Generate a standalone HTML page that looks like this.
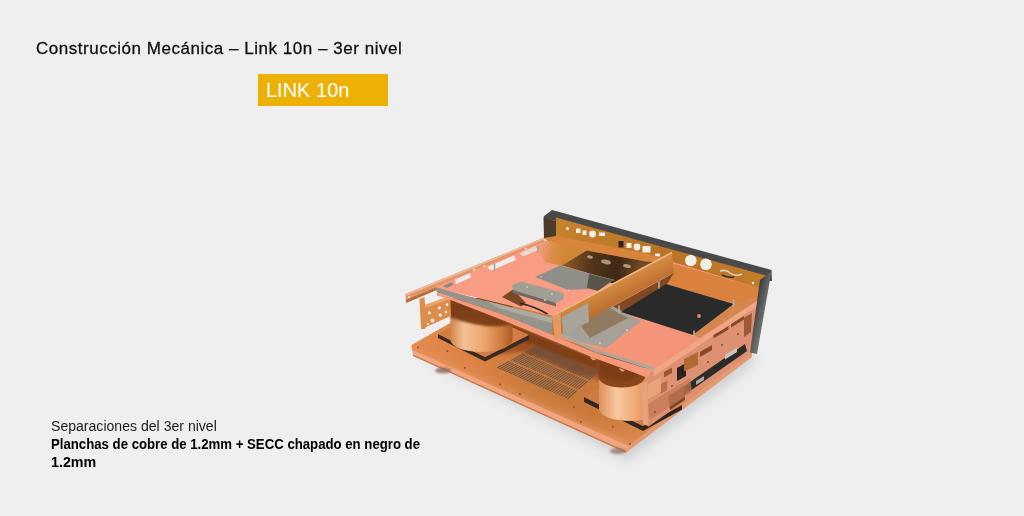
<!DOCTYPE html>
<html lang="es">
<head>
<meta charset="utf-8">
<title>Construcción Mecánica – Link 10n – 3er nivel</title>
<style>
html,body{margin:0;padding:0;}
body{width:1024px;height:516px;background:#efefef;position:relative;overflow:hidden;font-family:"Liberation Sans","DejaVu Sans",sans-serif;color:#111;}
.title{position:absolute;left:36.2px;top:36.8px;font-size:17px;line-height:24px;white-space:nowrap;color:#0e0e0e;letter-spacing:0.53px;-webkit-text-stroke:0.28px #0e0e0e;will-change:transform;}
.tag{position:absolute;left:258px;top:74px;width:130px;height:31.5px;background:#edb004;color:#fff;font-size:20px;line-height:32px;box-sizing:border-box;padding-left:8px;white-space:nowrap;}
.cap{position:absolute;left:51px;top:416.5px;font-size:14px;line-height:18.4px;color:#1c1c1c;white-space:nowrap;}
.cap span,.cap b{display:inline-block;transform-origin:0 0;}
.cap b{font-weight:bold;color:#000;}
#c1{transform:scaleX(1.005);}#c2{transform:scaleX(0.942);}#c3{transform:scaleX(1.02);}
#photo{position:absolute;left:0;top:0;}
</style>
</head>
<body>
<svg id="photo" width="1024" height="516" viewBox="0 0 1024 516">
<defs>
  <filter id="soft" x="-5%" y="-5%" width="110%" height="110%"><feGaussianBlur stdDeviation="0.6"/></filter>
  <filter id="sh" x="-20%" y="-20%" width="140%" height="140%"><feGaussianBlur stdDeviation="6"/></filter>
  <filter id="b2" x="-20%" y="-20%" width="140%" height="140%"><feGaussianBlur stdDeviation="2"/></filter>
  <filter id="b1" x="-20%" y="-20%" width="140%" height="140%"><feGaussianBlur stdDeviation="1"/></filter>
  <linearGradient id="gBase" x1="411" y1="350" x2="700" y2="400" gradientUnits="userSpaceOnUse">
    <stop offset="0" stop-color="#e48a50"/><stop offset="0.22" stop-color="#dc8244"/><stop offset="0.42" stop-color="#c97a3a"/><stop offset="0.65" stop-color="#c87838"/><stop offset="0.8" stop-color="#d6864a"/><stop offset="1" stop-color="#de9058"/>
  </linearGradient>
  <linearGradient id="gCylL" x1="450" y1="0" x2="513" y2="0" gradientUnits="userSpaceOnUse">
    <stop offset="0" stop-color="#d08548"/><stop offset="0.22" stop-color="#f4c096"/><stop offset="0.5" stop-color="#eeaa74"/><stop offset="0.8" stop-color="#d27e42"/><stop offset="1" stop-color="#a85a26"/>
  </linearGradient>
  <linearGradient id="gCylLv" x1="0" y1="300" x2="0" y2="352" gradientUnits="userSpaceOnUse">
    <stop offset="0" stop-color="#6a3410" stop-opacity="0.9"/><stop offset="0.26" stop-color="#7a3c14" stop-opacity="0.6"/><stop offset="0.38" stop-color="#8a4818" stop-opacity="0.12"/><stop offset="0.46" stop-color="#8a4818" stop-opacity="0"/>
  </linearGradient>
  <linearGradient id="gCylR" x1="598" y1="0" x2="662" y2="0" gradientUnits="userSpaceOnUse">
    <stop offset="0" stop-color="#dc8e56"/><stop offset="0.3" stop-color="#f7c8a0"/><stop offset="0.6" stop-color="#efa870"/><stop offset="1" stop-color="#cc763c"/>
  </linearGradient>
  <linearGradient id="gDark" x1="565" y1="262" x2="640" y2="272" gradientUnits="userSpaceOnUse">
    <stop offset="0" stop-color="#8a5a26"/><stop offset="0.35" stop-color="#54341a"/><stop offset="0.7" stop-color="#3e2814"/><stop offset="1" stop-color="#6e4a22"/>
  </linearGradient>
  <linearGradient id="gGold" x1="538" y1="250" x2="566" y2="256" gradientUnits="userSpaceOnUse">
    <stop offset="0" stop-color="#f89d84"/><stop offset="0.5" stop-color="#dc8e48"/><stop offset="1" stop-color="#cf8636"/>
  </linearGradient>
  <linearGradient id="gBack" x1="556" y1="225" x2="766" y2="282" gradientUnits="userSpaceOnUse">
    <stop offset="0" stop-color="#c5822e"/><stop offset="0.5" stop-color="#b97426"/><stop offset="1" stop-color="#c27c2c"/>
  </linearGradient>
  <linearGradient id="gDiv" x1="612" y1="284" x2="622" y2="304" gradientUnits="userSpaceOnUse">
    <stop offset="0" stop-color="#d48a42"/><stop offset="1" stop-color="#b96a2c"/>
  </linearGradient>
  <linearGradient id="gRP" x1="752" y1="310" x2="765" y2="313" gradientUnits="userSpaceOnUse">
    <stop offset="0" stop-color="#3c342e"/><stop offset="0.5" stop-color="#555553"/><stop offset="1" stop-color="#727270"/>
  </linearGradient>
  <linearGradient id="gFront" x1="500" y1="390" x2="506" y2="376" gradientUnits="userSpaceOnUse">
    <stop offset="0" stop-color="#f0a67a" stop-opacity="0.9"/><stop offset="0.4" stop-color="#e4955e" stop-opacity="0.45"/><stop offset="1" stop-color="#e08c54" stop-opacity="0"/>
  </linearGradient>
</defs>
<g filter="url(#soft)">
  <!-- ground shadow -->
  <polygon points="420,356 628,461 754,364 748,345 600,380" fill="#c2c4c4" opacity="0.7" filter="url(#sh)"/>
  <!-- base plate -->
  <polygon points="411.5,345 452,322 520,290 720,300 753,352 628,446.5 412,350.5" fill="url(#gBase)"/>
  <polygon points="411.5,345 452,322 520,340 700,400 628,446.5 412,350.5" fill="url(#gFront)" opacity="0.55"/>
  <!-- base front lip -->
  <polygon points="411.5,345 412,350 628,446 626,452.5 413,355.5" fill="#f2a680"/>
  <polygon points="412.8,354.5 626.2,451.3 626,452.8 413,356" fill="#c9764a"/>
  <polygon points="626,452.8 628,446.5 752,351 752,357" fill="#e39a72"/>
  <ellipse cx="443" cy="370.5" rx="8" ry="3" fill="#8a6a58" opacity="0.8" filter="url(#b1)"/>
  <ellipse cx="618" cy="451" rx="8" ry="3" fill="#8a6a58" opacity="0.7" filter="url(#b1)"/>
  <!-- back panel -->
  <polygon points="543.5,216.5 552,210 771.5,270 772,281 762,281 763,278.5 556,221 544,219" fill="#4a4a48"/>
  <polygon points="543.5,218 556,221 556,240 544,238.5" fill="#4e3a2c"/>
  <polygon points="556,217.5 766,275.5 762,290 556,236.5" fill="url(#gBack)"/>
  <g fill="#f2eee8">
    <circle cx="567.5" cy="228.5" r="1.5"/><rect x="576" y="228.5" width="4.5" height="4.5"/><rect x="582.5" y="230.5" width="4" height="4.5"/>
    <circle cx="592.5" cy="234" r="3.4"/><rect x="599" y="232.5" width="6" height="3.5"/>
    <rect x="626.5" y="243" width="5" height="5"/><circle cx="637" cy="247" r="3.4"/><rect x="642.5" y="246" width="8" height="6.5"/><rect x="655" y="253.5" width="5" height="3"/>
    <circle cx="690.8" cy="260.5" r="5.8"/><circle cx="706" cy="264.3" r="5.8"/>
    <circle cx="753" cy="283" r="1.2"/>
  </g>
  <rect x="618.5" y="241" width="5" height="6.5" fill="#2c2620"/>
  <path d="M720,271 q6,-2 10,2 q5,4 12,1" stroke="#d8d2c8" stroke-width="1.6" fill="none"/>
  <path d="M722,275 q6,3 12,2" stroke="#3a3028" stroke-width="1.6" fill="none"/>

  <!-- shadow under top assembly on base -->
  <polygon points="440,300 500,319 556,342 600,360 602,380 575,374 545,360 520,352 500,354 470,330" fill="#9a5022" opacity="0.95" filter="url(#b2)"/>
  <polygon points="505,322 556,343 598,360 598,370 556,354 515,338" fill="#7c3e16" opacity="0.85" filter="url(#b1)"/>
  <g stroke="#5f5048" stroke-width="1.1" opacity="0.85"><line x1="497.0" y1="368.0" x2="509.4" y2="361.3"/><line x1="511.1" y1="360.4" x2="523.6" y2="353.7"/><line x1="525.3" y1="352.8" x2="538.1" y2="345.9"/><line x1="499.3" y1="369.0" x2="511.6" y2="362.3"/><line x1="513.3" y1="361.4" x2="525.6" y2="354.6"/><line x1="527.3" y1="353.7" x2="540.1" y2="346.7"/><line x1="501.5" y1="370.0" x2="513.8" y2="363.2"/><line x1="515.5" y1="362.3" x2="527.7" y2="355.5"/><line x1="529.4" y1="354.5" x2="542.0" y2="347.5"/><line x1="503.8" y1="371.0" x2="515.9" y2="364.2"/><line x1="517.6" y1="363.2" x2="529.7" y2="356.4"/><line x1="531.4" y1="355.4" x2="543.9" y2="348.3"/><line x1="506.1" y1="372.0" x2="518.1" y2="365.1"/><line x1="519.8" y1="364.2" x2="531.8" y2="357.2"/><line x1="533.5" y1="356.3" x2="545.9" y2="349.1"/><line x1="508.4" y1="373.0" x2="520.3" y2="366.1"/><line x1="521.9" y1="365.1" x2="533.9" y2="358.1"/><line x1="535.5" y1="357.2" x2="547.8" y2="349.9"/><line x1="510.6" y1="374.0" x2="522.5" y2="367.0"/><line x1="524.1" y1="366.0" x2="535.9" y2="359.0"/><line x1="537.5" y1="358.0" x2="549.8" y2="350.8"/><line x1="512.9" y1="375.0" x2="524.6" y2="367.9"/><line x1="526.3" y1="367.0" x2="538.0" y2="359.9"/><line x1="539.6" y1="358.9" x2="551.7" y2="351.6"/><line x1="515.2" y1="376.0" x2="526.8" y2="368.9"/><line x1="528.4" y1="367.9" x2="540.0" y2="360.8"/><line x1="541.6" y1="359.8" x2="553.7" y2="352.4"/><line x1="517.5" y1="377.0" x2="529.0" y2="369.8"/><line x1="530.6" y1="368.8" x2="542.1" y2="361.6"/><line x1="543.7" y1="360.6" x2="555.6" y2="353.2"/><line x1="519.7" y1="378.0" x2="531.2" y2="370.8"/><line x1="532.7" y1="369.8" x2="544.2" y2="362.5"/><line x1="545.7" y1="361.5" x2="557.6" y2="354.0"/><line x1="522.0" y1="379.0" x2="533.3" y2="371.7"/><line x1="534.9" y1="370.7" x2="546.2" y2="363.4"/><line x1="547.8" y1="362.4" x2="559.5" y2="354.8"/><line x1="524.3" y1="380.0" x2="535.5" y2="372.6"/><line x1="537.1" y1="371.6" x2="548.3" y2="364.3"/><line x1="549.8" y1="363.3" x2="561.4" y2="355.7"/><line x1="526.6" y1="381.0" x2="537.7" y2="373.6"/><line x1="539.2" y1="372.6" x2="550.3" y2="365.2"/><line x1="551.9" y1="364.1" x2="563.4" y2="356.5"/><line x1="528.8" y1="382.0" x2="539.9" y2="374.5"/><line x1="541.4" y1="373.5" x2="552.4" y2="366.0"/><line x1="553.9" y1="365.0" x2="565.3" y2="357.3"/><line x1="531.1" y1="383.0" x2="542.0" y2="375.5"/><line x1="543.5" y1="374.4" x2="554.5" y2="366.9"/><line x1="556.0" y1="365.9" x2="567.3" y2="358.1"/><line x1="533.4" y1="384.0" x2="544.2" y2="376.4"/><line x1="545.7" y1="375.4" x2="556.5" y2="367.8"/><line x1="558.0" y1="366.8" x2="569.2" y2="358.9"/><line x1="535.7" y1="385.0" x2="546.4" y2="377.4"/><line x1="547.9" y1="376.3" x2="558.6" y2="368.7"/><line x1="560.1" y1="367.6" x2="571.2" y2="359.7"/><line x1="537.9" y1="386.0" x2="548.6" y2="378.3"/><line x1="550.0" y1="377.2" x2="560.7" y2="369.6"/><line x1="562.1" y1="368.5" x2="573.1" y2="360.6"/><line x1="540.2" y1="387.0" x2="550.7" y2="379.2"/><line x1="552.2" y1="378.2" x2="562.7" y2="370.4"/><line x1="564.2" y1="369.4" x2="575.1" y2="361.4"/><line x1="542.5" y1="388.0" x2="552.9" y2="380.2"/><line x1="554.3" y1="379.1" x2="564.8" y2="371.3"/><line x1="566.2" y1="370.2" x2="577.0" y2="362.2"/><line x1="544.8" y1="389.0" x2="555.1" y2="381.1"/><line x1="556.5" y1="380.0" x2="566.8" y2="372.2"/><line x1="568.3" y1="371.1" x2="578.9" y2="363.0"/><line x1="547.0" y1="390.0" x2="557.3" y2="382.1"/><line x1="558.7" y1="381.0" x2="568.9" y2="373.1"/><line x1="570.3" y1="372.0" x2="580.9" y2="363.8"/><line x1="549.3" y1="391.0" x2="559.4" y2="383.0"/><line x1="560.8" y1="381.9" x2="571.0" y2="374.0"/><line x1="572.4" y1="372.9" x2="582.8" y2="364.6"/><line x1="551.6" y1="391.9" x2="561.6" y2="383.9"/><line x1="563.0" y1="382.8" x2="573.0" y2="374.8"/><line x1="574.4" y1="373.7" x2="584.8" y2="365.5"/><line x1="553.9" y1="392.9" x2="563.8" y2="384.9"/><line x1="565.2" y1="383.8" x2="575.1" y2="375.7"/><line x1="576.5" y1="374.6" x2="586.7" y2="366.3"/><line x1="556.1" y1="393.9" x2="566.0" y2="385.8"/><line x1="567.3" y1="384.7" x2="577.1" y2="376.6"/><line x1="578.5" y1="375.5" x2="588.7" y2="367.1"/><line x1="558.4" y1="394.9" x2="568.1" y2="386.8"/><line x1="569.5" y1="385.6" x2="579.2" y2="377.5"/><line x1="580.5" y1="376.4" x2="590.6" y2="367.9"/><line x1="560.7" y1="395.9" x2="570.3" y2="387.7"/><line x1="571.6" y1="386.6" x2="581.3" y2="378.4"/><line x1="582.6" y1="377.2" x2="592.6" y2="368.7"/><line x1="563.0" y1="396.9" x2="572.5" y2="388.7"/><line x1="573.8" y1="387.5" x2="583.3" y2="379.2"/><line x1="584.6" y1="378.1" x2="594.5" y2="369.5"/><line x1="565.2" y1="397.9" x2="574.7" y2="389.6"/><line x1="576.0" y1="388.4" x2="585.4" y2="380.1"/><line x1="586.7" y1="379.0" x2="596.4" y2="370.4"/><line x1="567.5" y1="398.9" x2="576.8" y2="390.5"/><line x1="578.1" y1="389.4" x2="587.4" y2="381.0"/><line x1="588.7" y1="379.8" x2="598.4" y2="371.2"/></g>
  <!-- base screws -->
  <g fill="#8a4a22"><circle cx="465" cy="368" r="0.9"/><circle cx="500.2" cy="384.5" r="0.9"/><circle cx="520" cy="394" r="0.9"/><circle cx="574" cy="406.8" r="0.9"/><circle cx="581" cy="422" r="0.9"/><circle cx="612.7" cy="426.7" r="0.9"/><circle cx="630" cy="444" r="0.9"/><circle cx="447.5" cy="351" r="0.9"/><circle cx="418" cy="347.5" r="0.9"/></g>
  <!-- left transformer pad -->
  <polygon points="438,334 485,357 529,335 529,339.5 485,361.5 438,338" fill="#3a2a20"/>
  <polygon points="438,334 480,312 529,335 485,357" fill="#d27c46"/>
  <!-- left transformer -->
  <path d="M450.5,298 L450.5,340 A31,12 0 0 0 512.5,340 L512.5,298 Z" fill="url(#gCylL)"/>
  <path d="M450.5,298 L450.5,340 A31,12 0 0 0 512.5,340 L512.5,298 Z" fill="url(#gCylLv)"/>
  <path d="M450.5,298 L514,324.5 L497,326.5 Q474,326.5 450.5,317 Z" fill="#7a3c16" opacity="0.95" filter="url(#b1)"/>
  <!-- right transformer pad -->
  <polygon points="584,397 643,426 682,405 682,409.5 643,431 584,402" fill="#33261e"/>
  <polygon points="584,397 625,375 682,405 643,426" fill="#cf7a46"/>
  <!-- right transformer -->
  <path d="M599,360 L599,409 A31,12 0 0 0 661,409 L661,360 Z" fill="url(#gCylR)"/>
  <path d="M598.5,354 L598.5,377 A23.2,10.5 0 0 0 645,377 L645,362 Z" fill="#8a461c"/>
  <path d="M598.5,356 L598.5,372 A22.5,10.5 0 0 0 640,376 L645,364 Z" fill="#7a3a14" opacity="0.7" filter="url(#b1)"/>

  <!-- left bracket -->
  <polygon points="419.5,299 424.5,297 425,305 450,296 451,316 426,327 425,329 421,329" fill="#dc8c4c"/>
  <polygon points="425,305 450,296 450,299 425,308" fill="#e9a66e"/>
  <g fill="#f3efe8"><circle cx="429.3" cy="312.7" r="1.5"/><circle cx="432.4" cy="320.5" r="1.9"/><circle cx="439.4" cy="308" r="1.4"/><circle cx="440.2" cy="315" r="1.6"/><circle cx="447" cy="304.5" r="1.3"/><circle cx="446" cy="312" r="1.2"/><circle cx="428" cy="324" r="1.1"/></g>

  <!-- left rail -->
  <polygon points="405.3,294 544,237.5 545,243.5 406,302.5" fill="#e2946a"/>
  <polygon points="405.3,294 544,237.5 544.2,239.2 405.5,296" fill="#f2b898"/>
  <polygon points="406,300 545,241.8 545,244 406.2,303" fill="#b96a3a"/>
  <g fill="#f1ebe4"><circle cx="409" cy="297" r="1"/><circle cx="474.3" cy="270" r="1.3"/><circle cx="484.4" cy="266.2" r="1.3"/><circle cx="526" cy="249" r="1.2"/></g>

  <!-- top plate, left compartment (salmon) -->
  <polygon points="434,287.5 548,240 660,262 672,254 553.5,316" fill="#f89d84"/>
  <!-- gaps under rail (background showing) -->
  <polygon points="455,279.5 470,273 471,277.5 456,284" fill="#f0ece8"/>
  <polygon points="487,267 514,255.5 516,260 491,270.5" fill="#efebe6"/>
  <polygon points="520,253 536,246 538,250 523,256.5" fill="#e9d9cc"/>
  <polygon points="443,286 452,282 453,285 447,288" fill="#8a8a84"/>
  <!-- golden reflection near back -->
  <polygon points="536,247 548,240 588,249 562,266 545,262" fill="url(#gGold)"/>
  <!-- orange strip below back panel -->
  <polygon points="544,238 556,236 650,254 662,258 658,262 646,261.5 586.5,250.5 548,241" fill="#d8843a"/>
  <!-- dark reflective floor -->
  <polygon points="586.5,250.5 646,261.5 658,262 614,284 588,273 562,265.5" fill="url(#gDark)"/>
  <!-- grey plate -->
  <polygon points="535,277 560,265.5 588,273 615,280 587,289 568,290" fill="#908f87"/>
  <polygon points="589,274 613,280 598,291 587,288" fill="#5a554c"/>
  <!-- grey bracket -->
  <polygon points="502,297 513,289.5 526,303 521,306.5" fill="#7a4620"/>
  <polygon points="512,285 521,281.5 564,293 563,299.5 556,303 513,290" fill="#a19e94"/>
  <polygon points="513,290 556,303 556,306.5 512,293" fill="#6e6a62"/>

  <!-- right compartment floor -->
  <polygon points="673,262 762,289 764,297 653,370 560,338 556,318" fill="#f4957a"/>
  <!-- orange floor near back right -->
  <polygon points="674,264 762,289 763,296 735,304 666,284" fill="#d8823c"/>
  <!-- shadow strip right of divider -->
  <polygon points="674,273 667,284 621,312.5 600,324 570,330" fill="#74421a" opacity="0.92"/>
  <!-- grey plate mid -->
  <polygon points="561,316 612,306 641,321 606,348 560,337" fill="#a5a198"/>
  <polygon points="575,318 610,308 628,318 590,338" fill="#8a6a4a" opacity="0.7"/>
  <!-- black pad -->
  <polygon points="666,284 734,304 693,335 621,312" fill="#2a2a2a"/>
  <circle cx="699" cy="316" r="1.9" fill="#e08a60"/>
  <!-- floor between pad and wall -->
  <polygon points="734,304 764,296 700,338 693,335" fill="#d48650"/>

  <!-- small posts and screws on plates -->
  <g stroke="#a8a49c" stroke-width="1.5" stroke-linecap="round"><line x1="494.5" y1="264" x2="494.5" y2="270.5"/><line x1="538" y1="247" x2="538" y2="252"/></g>
  <g fill="#d8d2c8"><circle cx="527" cy="287" r="0.9"/><circle cx="552" cy="294" r="0.9"/><circle cx="545" cy="300" r="1"/><circle cx="569" cy="290" r="0.8"/><circle cx="541" cy="277" r="0.8"/><circle cx="627" cy="330" r="0.9"/><circle cx="600" cy="343" r="0.9"/></g>
  <g fill="#f6e6da" opacity="0.55"><ellipse cx="606" cy="262" rx="5" ry="2.2" transform="rotate(12 606 262)"/><ellipse cx="627" cy="266" rx="4" ry="1.8" transform="rotate(12 627 266)"/><ellipse cx="590" cy="257" rx="3" ry="1.5" transform="rotate(12 590 257)"/></g>
  <!-- standoffs -->
  <g stroke="#b8b0a6" stroke-width="1.6" stroke-linecap="round">
    <line x1="659" y1="282" x2="659" y2="288"/><line x1="733.5" y1="300" x2="733.5" y2="306"/><line x1="694" y1="331" x2="694" y2="337"/><line x1="619" y1="306" x2="619" y2="313"/>
  </g>
  <!-- divider -->
  <polygon points="672,252.5 674,272.5 559,335.5 553.5,315.5" fill="url(#gDiv)"/>
  <polygon points="562,317 588,303 589,322 563,334" fill="#a8a49a"/>
  <polyline points="672,252.5 553.5,315.5" stroke="#f2b684" stroke-width="1.5" fill="none"/>

  <!-- front band of top assembly -->
  <polygon points="434.7,287 484,300.5 552,317.5 552,335.5 500,313.5 437,292.5" fill="#96938a"/>
  <polygon points="484,300.5 552,317.5 552,323 500,308.5" fill="#aeaaa0"/>
  <path d="M520,303.5 Q534,306 547.5,314" stroke="#2a2826" stroke-width="1.7" fill="none"/>
  <polygon points="437,292.5 500,313.5 556,336.5 594,352.5 650,369.5 660,370.5 655,381 634,372.5 594,358 556,342 500,319 444,297.6 437,295.5" fill="#f49a7a"/>
  <polygon points="561,333 594,348.5 652,366.5 660,370.5 650,369.5 594,351.5 561,336" fill="#aaa79e"/>
  <path d="M590,356.5 q2.5,6 6,2.5 z" fill="#ee9a78"/><path d="M619,368 q2.5,6 6,2 z" fill="#ee9a78"/>
  <!-- divider post -->
  <polygon points="552,316 560.5,314 561.5,338 555,340" fill="#e29a64"/>

  <!-- right front wall -->
  <polygon points="653,369.5 764,296.5 752,353 648,427 643,384" fill="#dd9072"/>
  <polygon points="653,369.5 764,296.5 763,302.5 654,376" fill="#f0a684"/>
  <!-- cutouts in wall -->
  <polygon points="641.5,384 647.5,381 648,426 643,424" fill="#eaa27e"/>
  <polygon points="648,384 661,377 661,392 648,399" fill="#e9a27a"/>
  <polygon points="677,368 686,363 686,376 677,381" fill="#2a2220"/>
  <polygon points="684,359 698,352 698,365 684,371.5" fill="#b06a34"/>
  <polygon points="680,389 745,344 747,351 683,396" fill="#2e2a28"/>
  <polygon points="696,381 704,376 704,380 696,385" fill="#a9a9a6"/><polygon points="725,355 737,347.5 737,352 725,359.5" fill="#c9c7c0"/>
  <polygon points="713.5,335 728.5,326 728.5,329.5 713.5,338.5" fill="#8a4a28"/>
  <polygon points="731,324 744,316 744,319.5 731,327.5" fill="#8a4a28"/>
  <polygon points="668,396 684,386 685,400 670,410" fill="#7a4426"/>
  <!-- extra wall details -->
  <polygon points="648,404 690,378 692,392 650,420" fill="#c67a56" opacity="0.75"/>
  <polygon points="700,352 712,345 712,350 700,357" fill="#8a4a28"/>
  <polygon points="744,318 752,313 751,332 744,337" fill="#9a5a34"/>
  <polygon points="664,372 672,367.5 672,373 664,377.5" fill="#9a5630"/>
  <polygon points="661,384 667,380.5 667,390 661,393.5" fill="#b86e48"/>
  <g fill="#8a4a2a"><circle cx="672" cy="386" r="1"/><circle cx="708" cy="362" r="1"/><circle cx="722" cy="345" r="1"/><circle cx="738" cy="334" r="1"/><circle cx="655" cy="412" r="1"/></g>
  <!-- right side panel -->
  <polygon points="760,280 771.5,271 757,354 750,352.5" fill="url(#gRP)"/>
</g>
</svg>

<div class="title">Construcción Mecánica – Link 10n – 3er nivel</div>
<div class="tag">LINK 10n</div>
<div class="cap"><span id="c1">Separaciones del 3er nivel</span><br><b id="c2">Planchas de cobre de 1.2mm + SECC chapado en negro de</b><br><b id="c3">1.2mm</b></div>
</body>
</html>
